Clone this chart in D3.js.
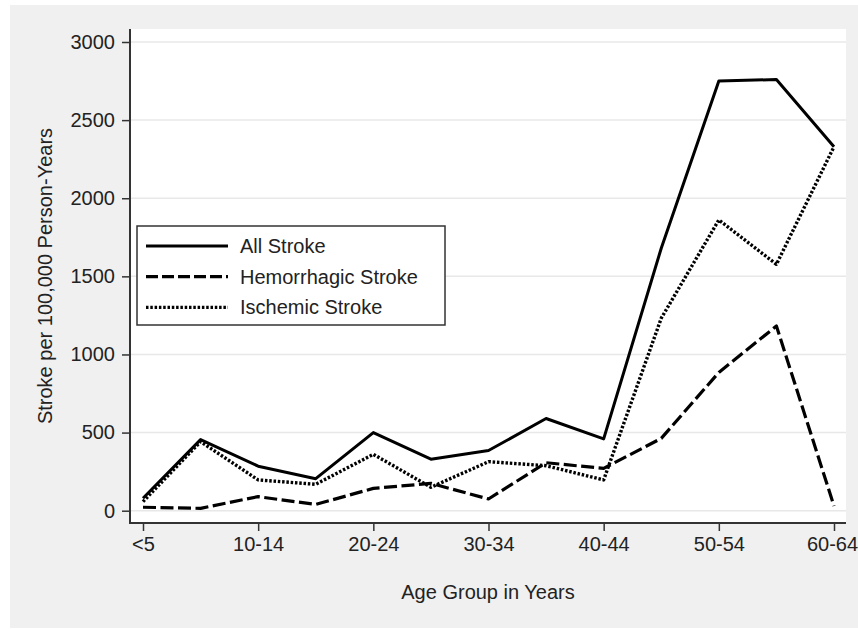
<!DOCTYPE html>
<html>
<head>
<meta charset="utf-8">
<script src="https://cdn.jsdelivr.net/npm/d3@7"></script>
<style>
  body { margin: 0; background: #fff; }
  svg text { font-family: "Liberation Sans", Arial, sans-serif; fill: #222; }
  .tick text { font-size: 20px; }
  .axisLabel { font-size: 20px; }
  .legendText { font-size: 20px; }
</style>
</head>
<body>
<div class="chart"></div>
<script>
// age groups, every other one labelled on the axis
var ageGroups = ["<5", "5-9", "10-14", "15-19", "20-24", "25-29", "30-34",
                 "35-39", "40-44", "45-49", "50-54", "55-59", "60-64"];
var xTickLabels = ["<5", "10-14", "20-24", "30-34", "40-44", "50-54", "60-64"];
var yTicks = [0, 500, 1000, 1500, 2000, 2500, 3000];

// rates per 100,000 person-years
var allStroke    = [80, 455, 285, 205, 500, 330, 385, 590, 460, 1680, 2750, 2760, 2330];
var hemorrhagic  = [22, 15, 90, 40, 143, 175, 75, 307, 271, 463, 885, 1182, 30];
var ischemic     = [58, 442, 197, 169, 361, 150, 314, 288, 197, 1232, 1861, 1577, 2330];

var seriesNames = ["All Stroke", "Hemorrhagic Stroke", "Ischemic Stroke"];

var width = 858, height = 629;
var plot = { left: 130, right: 846, top: 29, bottom: 523 };

var svg = d3.select(".chart").append("svg")
            .attr("width", width)
            .attr("height", height);

// gray page background
svg.append("rect")
   .attr("x", 10).attr("y", 5)
   .attr("width", width - 10).attr("height", 623)
   .style("fill", "#f0f0f0");

// white plot region
svg.append("rect")
   .attr("x", plot.left).attr("y", plot.top)
   .attr("width", plot.right - plot.left).attr("height", plot.bottom - plot.top)
   .style("fill", "#fff");

var scaleX = d3.scalePoint()
               .domain(ageGroups)
               .range([143, 834]);

var scaleY = d3.scaleLinear()
               .domain([0, 3000])
               .range([510.7, 42]);

// gridlines
svg.append("g")
   .selectAll("line")
   .data(yTicks)
   .enter()
   .append("line")
   .attr("x1", plot.left + 1).attr("x2", plot.right)
   .attr("y1", function(d) { return scaleY(d); })
   .attr("y2", function(d) { return scaleY(d); })
   .style("stroke", "#e8e8e8")
   .style("stroke-width", 1.5);

var axisLeft = d3.axisLeft(scaleY)
                 .tickValues(yTicks)
                 .tickFormat(d3.format("d"))
                 .tickSize(8)
                 .tickPadding(7);

var axisBottom = d3.axisBottom(scaleX)
                   .tickValues(xTickLabels)
                   .tickSize(8)
                   .tickPadding(6);

var gy = svg.append("g")
   .attr("transform", "translate(" + plot.left + ",0)")
   .call(axisLeft);

var gx = svg.append("g")
   .attr("transform", "translate(0," + plot.bottom + ")")
   .call(axisBottom);

[gx, gy].forEach(function(g) {
  g.select(".domain").remove();
  g.selectAll(".tick line").style("stroke", "#333").style("stroke-width", 1.5);
  g.selectAll(".tick text").style("fill", "#222");
});
gx.selectAll(".tick text").attr("dx", function(d) { return d === "60-64" ? -2 : 0; });

// axis lines
svg.append("line")
   .attr("x1", plot.left).attr("x2", plot.left)
   .attr("y1", plot.top).attr("y2", plot.bottom + 1)
   .style("stroke", "#333").style("stroke-width", 2);

svg.append("line")
   .attr("x1", plot.left - 1).attr("x2", plot.right)
   .attr("y1", plot.bottom).attr("y2", plot.bottom)
   .style("stroke", "#333").style("stroke-width", 2);

// axis titles
svg.append("text")
   .attr("class", "axisLabel")
   .attr("transform", "translate(52," + ((plot.top + plot.bottom) / 2) + ") rotate(-90)")
   .style("text-anchor", "middle")
   .text("Stroke per 100,000 Person-Years");

svg.append("text")
   .attr("class", "axisLabel")
   .attr("x", (plot.left + plot.right) / 2)
   .attr("y", 599)
   .style("text-anchor", "middle")
   .text("Age Group in Years");

// lines
var dashes = ["none", "13,4.5", "2.5,1.8"];
var widths = [3, 3.2, 3.4];
var allSeries = [allStroke, hemorrhagic, ischemic];

var line = d3.line()
             .x(function(d, i) { return scaleX(ageGroups[i]); })
             .y(function(d) { return scaleY(d); });

svg.append("g")
   .selectAll("path")
   .data(allSeries)
   .enter()
   .append("path")
   .attr("d", line)
   .style("fill", "none")
   .style("stroke", "#000")
   .style("stroke-width", function(d, i) { return widths[i]; })
   .style("stroke-linejoin", "round")
   .style("stroke-dasharray", function(d, i) { return dashes[i]; });

// legend
var legend = svg.append("g").attr("transform", "translate(137,226)");

legend.append("rect")
      .attr("width", 308).attr("height", 99)
      .style("fill", "#fff")
      .style("stroke", "#333")
      .style("stroke-width", 1.5);

var legendDashes = ["none", "12,4", "2.5,1.8"];

var legendRows = legend.selectAll(".legendRow")
                       .data(seriesNames)
                       .enter()
                       .append("g")
                       .attr("class", "legendRow")
                       .attr("transform", function(d, i) { return "translate(0," + (20 + i * 30.7) + ")"; });

legendRows.append("line")
          .attr("x1", 9).attr("x2", 91)
          .style("stroke", "#000")
          .style("stroke-width", function(d, i) { return widths[i]; })
          .style("stroke-dasharray", function(d, i) { return legendDashes[i]; });

legendRows.append("text")
          .attr("class", "legendText")
          .attr("x", 103)
          .attr("y", 7)
          .text(function(d) { return d; });
</script>
</body>
</html>
